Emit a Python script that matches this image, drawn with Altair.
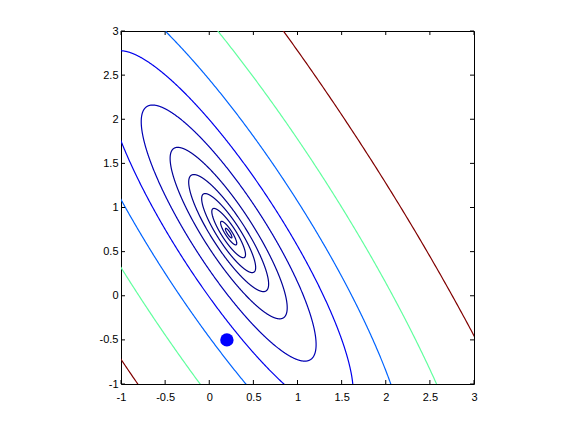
import numpy as np
import pandas as pd
import altair as alt

# Quadratic form: f(p) = (p - c)^T A (p - c)
center = [0.22, 0.71]
A = [[2.07, 1.23], [1.23, 0.965]]

# Contour levels (inner -> outer) and their line colours (jet-like)
levels = [0.0007, 0.0042, 0.0183, 0.047, 0.103, 0.221, 0.493, 1.0, 2.08, 4.4, 9.35]
colors = ["#000080", "#000080", "#000082", "#000085", "#00008b", "#000097",
          "#0000b5", "#0000ed", "#0064ff", "#61ff9e", "#800000"]

# Marked point
point_x = [0.2]
point_y = [-0.5]

tick_values = [-1, -0.5, 0, 0.5, 1, 1.5, 2, 2.5, 3]

# Build contour ellipses from the quadratic form
lam, V = np.linalg.eigh(np.array(A))
t = np.linspace(0, 2 * np.pi, 1441)
circle = np.vstack([np.cos(t), np.sin(t)])
rows = []
for k, (lv, col) in enumerate(zip(levels, colors)):
    pts = V @ (np.sqrt(lv / lam)[:, None] * circle)
    for i in range(pts.shape[1]):
        rows.append({"level": k, "color": col, "idx": i,
                     "x": center[0] + pts[0, i], "y": center[1] + pts[1, i]})
contours = pd.DataFrame(rows)

pt = pd.DataFrame({"x": point_x, "y": point_y})
ticks = pd.DataFrame({"x": tick_values, "y": tick_values})

xs = alt.Scale(domain=[-1, 3], nice=False, zero=False)
ys = alt.Scale(domain=[-1, 3], nice=False, zero=False)

lab = "'' + datum.value"
xaxis = alt.Axis(values=tick_values, ticks=False, tickSize=0, domain=False, grid=False,
                 labelExpr=lab, labelPadding=7, labelFont="Liberation Sans",
                 labelFontSize=11, labelColor="black", labelFlush=False, title=None)
yaxis = alt.Axis(values=tick_values, ticks=False, tickSize=0, domain=False, grid=False,
                 labelExpr=lab, labelPadding=3, labelFont="Liberation Sans",
                 labelFontSize=11, labelColor="black", labelFlush=False, title=None)

X = alt.X("x:Q", scale=xs, axis=xaxis, title=None)
Y = alt.Y("y:Q", scale=ys, axis=yaxis, title=None)

lines = alt.Chart(contours).mark_line(clip=True, strokeWidth=1.2).encode(
    x=X, y=Y,
    detail="level:N",
    color=alt.Color("color:N", scale=None),
    order="idx:Q",
)

dot = alt.Chart(pt).mark_circle(size=180, color="#0000ff", opacity=1).encode(x=X, y=Y)

tl = 4
bottom = alt.Chart(ticks).mark_rule(color="black", strokeWidth=1).encode(
    x=X, y=alt.value(353), y2=alt.value(353 - tl))
top = alt.Chart(ticks).mark_rule(color="black", strokeWidth=1).encode(
    x=X, y=alt.value(0), y2=alt.value(tl))
left = alt.Chart(ticks).mark_rule(color="black", strokeWidth=1).encode(
    y=Y, x=alt.value(0), x2=alt.value(tl))
right = alt.Chart(ticks).mark_rule(color="black", strokeWidth=1).encode(
    y=Y, x=alt.value(353), x2=alt.value(353 - tl))

chart = alt.layer(lines, dot, bottom, top, left, right).properties(
    width=353, height=353,
    autosize=alt.AutoSizeParams(type="none"),
    padding={"left": 113, "top": 23, "right": 94, "bottom": 40},
    background="white",
).configure_view(stroke="black", strokeWidth=1)

chart.save("out.html", embed_options={"renderer": "svg", "actions": False})
